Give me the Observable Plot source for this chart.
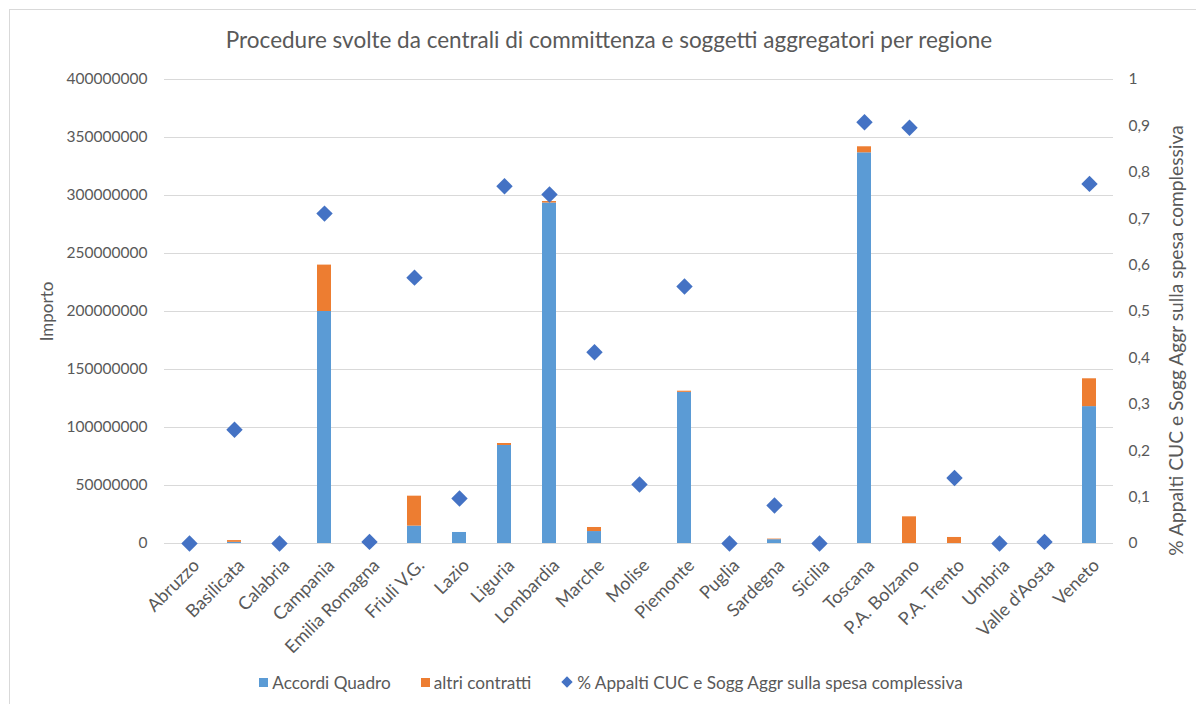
<!DOCTYPE html>
<html>
<head>
<meta charset="utf-8">
<script src="https://cdn.jsdelivr.net/npm/d3@7"></script>
<script src="https://cdn.jsdelivr.net/npm/@observablehq/plot@0.6"></script>
<style>
  body { margin: 0; background: #fff; font-family: Lato, "Noto Sans", sans-serif; color: #595959; }
  #wrap { position: relative; width: 1196px; height: 704px; overflow: hidden; }
  #frame { position: absolute; left: 9px; top: 9px; width: 1200px; height: 700px; border: 1px solid #d9d9d9; box-sizing: border-box; pointer-events: none; }
  #title { height: 60px; box-sizing: border-box; padding-top: 28px; line-height: 24px; font-size: 22.5px; text-align: center; color: #595959; padding-left: 22px; }
  #legend { height: 44px; display: flex; justify-content: center; align-items: center; font-size: 17.2px; color: #595959; padding-left: 26px; box-sizing: border-box; }
  .item { display: flex; align-items: center; margin: 0 15px; }
  .sw { width: 9px; height: 9px; margin-right: 4px; }
  .dia { width: 8px; height: 8px; background: #4472C4; transform: rotate(45deg); margin-right: 6px; margin-left: 2px; }
  svg { display: block; }
</style>
</head>
<body>
<div id="wrap">
  <div id="frame"></div>
  <div id="title">Procedure svolte da centrali di committenza e soggetti aggregatori per regione</div>
  <div id="chart"></div>
  <div id="legend"></div>
</div>
<script>
const regions = ["Abruzzo","Basilicata","Calabria","Campania","Emilia Romagna","Friuli V.G.","Lazio","Liguria","Lombardia","Marche","Molise","Piemonte","Puglia","Sardegna","Sicilia","Toscana","P.A. Bolzano","P.A. Trento","Umbria","Valle d'Aosta","Veneto"];
const accordiQuadro = [0, 1000000, 0, 200000000, 0, 15000000, 9500000, 84500000, 293500000, 10300000, 0, 130300000, 0, 3300000, 0, 336800000, 0, 0, 0, 0, 118000000];
const altriContratti = [0, 1500000, 0, 40000000, 0, 25800000, 0, 1700000, 1300000, 3500000, 0, 1000000, 0, 500000, 0, 5200000, 23000000, 5200000, 0, 0, 24000000];
const percentuale = [0, 0.245, 0, 0.711, 0.0035, 0.573, 0.097, 0.770, 0.752, 0.412, 0.127, 0.554, 0, 0.082, 0, 0.908, 0.896, 0.141, 0, 0.0035, 0.775];
const seriesNames = ["Accordi Quadro", "altri contratti"];
const seriesColors = ["#5B9BD5", "#ED7D31"];
const pctName = "% Appalti CUC e Sogg Aggr sulla spesa complessiva";
const pctColor = "#4472C4";
const leftTicks = [0, 50000000, 100000000, 150000000, 200000000, 250000000, 300000000, 350000000, 400000000];
const rightTicks = [0, 0.1, 0.2, 0.3, 0.4, 0.5, 0.6, 0.7, 0.8, 0.9, 1];
const yMax = 400000000;

const bars = [];
regions.forEach((r, i) => {
  bars.push({region: r, series: seriesNames[0], value: accordiQuadro[i]});
  bars.push({region: r, series: seriesNames[1], value: altriContratti[i]});
});
const pts = regions.map((r, i) => ({region: r, pct: percentuale[i]}));

const textColor = "#595959";
const gridColor = "#d9d9d9";

const chart = Plot.plot({
  width: 1196,
  height: 600,
  marginLeft: 164,
  marginRight: 83,
  marginTop: 19,
  marginBottom: 117,
  style: {fontFamily: "Lato, 'Noto Sans', sans-serif", fontSize: "15.5px", color: textColor, background: "transparent"},
  x: {domain: regions, paddingInner: 0.69, paddingOuter: 0.345, label: null},
  y: {domain: [0, yMax], label: null},
  color: {domain: seriesNames, range: seriesColors},
  marks: [
    Plot.gridY(leftTicks, {stroke: gridColor, strokeOpacity: 1, strokeWidth: 1}),
    Plot.barY(bars, {x: "region", y: "value", fill: "series", order: seriesNames}),
    Plot.ruleY([0], {stroke: gridColor, strokeWidth: 1}),
    Plot.dot(pts, {x: "region", y: d => d.pct * yMax, symbol: "diamond2", r: 7.4, fill: pctColor, stroke: null}),
    Plot.axisY(leftTicks, {anchor: "left", tickSize: 0, tickPadding: 17, tickFormat: d => String(d), label: null, fill: textColor, fontSize: 15.5}),
    Plot.axisY(rightTicks.map(t => t * yMax), {anchor: "right", tickSize: 0, tickPadding: 15, tickFormat: d => { const v = Math.round(d / yMax * 10) / 10; return String(v).replace(".", ","); }, label: null, fill: textColor, fontSize: 15.5}),
    Plot.axisX(regions, {anchor: "bottom", tickSize: 0, tickPadding: 19, dx: 7, tickRotate: -45, label: null, fill: textColor, fontSize: 18}),
    Plot.text(["Importo"], {frameAnchor: "left", dx: -117, rotate: -90, textAnchor: "middle", lineAnchor: "middle", fontSize: 17, fill: textColor}),
    Plot.text([pctName], {frameAnchor: "right", dx: 63, dy: 29, rotate: -90, textAnchor: "middle", lineAnchor: "middle", fontSize: 19.2, fill: textColor})
  ]
});
document.getElementById("chart").appendChild(chart);

const legend = document.getElementById("legend");
seriesNames.forEach((n, i) => {
  const it = document.createElement("div");
  it.className = "item";
  const sw = document.createElement("span");
  sw.className = "sw";
  sw.style.background = seriesColors[i];
  it.appendChild(sw);
  const t = document.createElement("span");
  t.textContent = n;
  it.appendChild(t);
  legend.appendChild(it);
});
{
  const it = document.createElement("div");
  it.className = "item";
  const sw = document.createElement("span");
  sw.className = "dia";
  it.appendChild(sw);
  const t = document.createElement("span");
  t.textContent = pctName;
  it.appendChild(t);
  legend.appendChild(it);
}
</script>
</body>
</html>
